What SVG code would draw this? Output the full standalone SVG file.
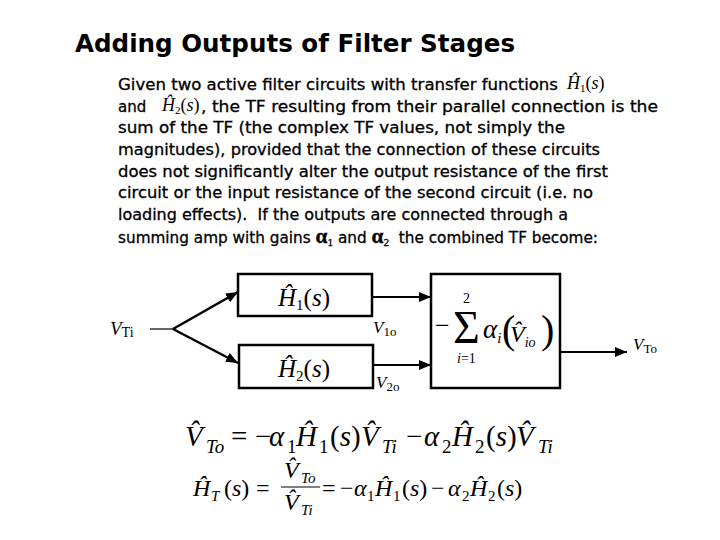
<svg xmlns="http://www.w3.org/2000/svg" width="720" height="540" viewBox="0 0 720 540">
<style>
.title{font-family:"DejaVu Sans",sans-serif;font-weight:bold;font-size:24px;fill:#000}
.body{font-family:"DejaVu Sans",sans-serif;font-size:15px;fill:#000;stroke:#000;stroke-width:0.3}
.m{font-family:"Liberation Serif","Times New Roman",serif;font-style:italic;fill:#000}
.u{font-style:normal}
.box{fill:#fff;stroke:#000;stroke-width:2.5}
.thin{stroke:#000;stroke-width:1.2;fill:none}
.thick{stroke:#000;stroke-width:2.5;fill:none}
.mid{stroke:#000;stroke-width:2.2;fill:none}
</style>
<defs>
<marker id="ah" markerUnits="userSpaceOnUse" markerWidth="12" markerHeight="10" refX="12" refY="5" orient="auto">
<path d="M0,0 L12,5 L0,10 z" fill="#000"/>
</marker>
</defs>
<rect width="720" height="540" fill="#fff"/>

<text class="title" x="75" y="52" textLength="440" lengthAdjust="spacingAndGlyphs">Adding Outputs of Filter Stages</text>

<g id="paragraph">
<text class="body" x="118" y="90" textLength="440" lengthAdjust="spacingAndGlyphs">Given two active filter circuits with transfer functions</text>
<text class="m" x="567" y="89" font-size="18">Ĥ<tspan class="u" font-size="11" dy="3">1</tspan><tspan class="u" dy="-3">(</tspan>s<tspan class="u">)</tspan></text>
<text class="body" x="118" y="112">and</text>
<text class="m" x="162" y="111" font-size="18">Ĥ<tspan class="u" font-size="11" dy="3">2</tspan><tspan class="u" dy="-3">(</tspan>s<tspan class="u">)</tspan></text>
<text class="body" x="201" y="112" textLength="457" lengthAdjust="spacingAndGlyphs">, the TF resulting from their parallel connection is the</text>
<text class="body" x="118" y="133" textLength="447" lengthAdjust="spacingAndGlyphs">sum of the TF (the complex TF values, not simply the</text>
<text class="body" x="118" y="155" textLength="482" lengthAdjust="spacingAndGlyphs">magnitudes), provided that the connection of these circuits</text>
<text class="body" x="118" y="177" textLength="490" lengthAdjust="spacingAndGlyphs">does not significantly alter the output resistance of the first</text>
<text class="body" x="118" y="198" textLength="475" lengthAdjust="spacingAndGlyphs">circuit or the input resistance of the second circuit (i.e. no</text>
<text class="body" x="118" y="220" textLength="450" lengthAdjust="spacingAndGlyphs">loading effects).&#160; If the outputs are connected through a</text>
<text class="body" x="118" y="243" textLength="480" lengthAdjust="spacingAndGlyphs">summing amp with gains <tspan font-family="Liberation Serif" font-weight="bold" font-size="21">α</tspan><tspan font-family="Liberation Serif" font-size="11" dy="3">1</tspan><tspan dy="-3"> and </tspan><tspan font-family="Liberation Serif" font-weight="bold" font-size="21">α</tspan><tspan font-family="Liberation Serif" font-size="11" dy="3">2</tspan><tspan dy="-3">&#160; the combined TF become:</tspan></text>
</g>

<g id="connectors">
<path class="thin" d="M150,329 H173"/>
<path class="thick" d="M173,329 L238,292" marker-end="url(#ah)"/>
<path class="thick" d="M173,329 L238,363" marker-end="url(#ah)"/>
<path class="mid" d="M372,297 H431" marker-end="url(#ah)"/>
<path class="mid" d="M373,365 H431" marker-end="url(#ah)"/>
<path class="mid" d="M560,352 H627" marker-end="url(#ah)"/>
</g>

<g id="input-label">
<text class="m" x="110" y="335" font-size="19">V<tspan class="u" font-size="14" dy="2">Ti</tspan></text>
</g>

<g id="H1">
<rect class="box" x="238" y="274" width="134" height="42"/>
<text class="m" x="278" y="306" font-size="25">Ĥ<tspan class="u" font-size="15" dy="4">1</tspan><tspan class="u" dy="-4">(</tspan>s<tspan class="u">)</tspan></text>
</g>

<g id="H2">
<rect class="box" x="239" y="345" width="134" height="43"/>
<text class="m" x="278" y="377" font-size="25">Ĥ<tspan class="u" font-size="15" dy="4">2</tspan><tspan class="u" dy="-4">(</tspan>s<tspan class="u">)</tspan></text>
</g>

<g id="labels">
<text class="m" x="373" y="333" font-size="17">V<tspan class="u" font-size="13" dy="3">1o</tspan></text>
<text class="m" x="376" y="388" font-size="17">V<tspan class="u" font-size="13" dy="3">2o</tspan></text>
<text class="m" x="633" y="350" font-size="17">V<tspan class="u" font-size="13" dy="3">To</tspan></text>
</g>

<g id="summer">
<rect class="box" x="431" y="274" width="129" height="114"/>
<text class="m u" x="435" y="334" font-size="26">−</text>
<text class="m u" x="453" y="343" font-size="46">Σ</text>
<text class="m u" x="463" y="303" font-size="14">2</text>
<text class="m" x="457" y="363" font-size="14">i<tspan class="u">=1</tspan></text>
<text class="m" x="483" y="338" font-size="27">α<tspan font-size="15" dy="5">i</tspan></text>
<text class="m u" x="502" y="343" font-size="40">(</text>
<text class="m" x="510" y="342" font-size="24">V̂<tspan font-size="14" dy="5">io</tspan></text>
<text class="m u" x="541" y="343" font-size="40">)</text>
</g>

<g id="equation1" class="m" font-size="29">
<text x="185" y="446">V̂</text>
<text x="206" y="453" font-size="19">To</text>
<text class="u" x="231" y="446">=</text>
<text class="u" x="255" y="446">−</text>
<text x="269" y="446">α</text>
<text class="u" x="287" y="453" font-size="19">1</text>
<text x="296" y="446">Ĥ</text>
<text class="u" x="319" y="453" font-size="19">1</text>
<text x="330" y="446"><tspan class="u">(</tspan>s<tspan class="u">)</tspan></text>
<text x="361" y="446">V̂</text>
<text x="382" y="453" font-size="19">Ti</text>
<text class="u" x="406" y="446">−</text>
<text x="424" y="446">α</text>
<text class="u" x="442" y="453" font-size="19">2</text>
<text x="452" y="446">Ĥ</text>
<text class="u" x="475" y="453" font-size="19">2</text>
<text x="486" y="446"><tspan class="u">(</tspan>s<tspan class="u">)</tspan></text>
<text x="516" y="446">V̂</text>
<text x="538" y="453" font-size="19">Ti</text>
</g>

<g id="equation2" class="m" font-size="24">
<text x="193" y="496">Ĥ</text>
<text x="211" y="501" font-size="15">T</text>
<text x="224" y="496"><tspan class="u">(</tspan>s<tspan class="u">)</tspan></text>
<text class="u" x="256" y="496">=</text>
<text x="284" y="478">V̂</text>
<text x="301" y="483" font-size="15">To</text>
<line x1="281" y1="487" x2="320" y2="487" stroke="#000" stroke-width="1.2"/>
<text x="284" y="510">V̂</text>
<text x="301" y="515" font-size="15">Ti</text>
<text class="u" x="322" y="496">=</text>
<text class="u" x="340" y="496">−</text>
<text x="354" y="496">α</text>
<text class="u" x="367" y="501" font-size="15">1</text>
<text x="375" y="496">Ĥ</text>
<text class="u" x="393" y="501" font-size="15">1</text>
<text x="402" y="496"><tspan class="u">(</tspan>s<tspan class="u">)</tspan></text>
<text class="u" x="431" y="496">−</text>
<text x="448" y="496">α</text>
<text class="u" x="462" y="501" font-size="15">2</text>
<text x="470" y="496">Ĥ</text>
<text class="u" x="488" y="501" font-size="15">2</text>
<text x="497" y="496"><tspan class="u">(</tspan>s<tspan class="u">)</tspan></text>
</g>
</svg>
